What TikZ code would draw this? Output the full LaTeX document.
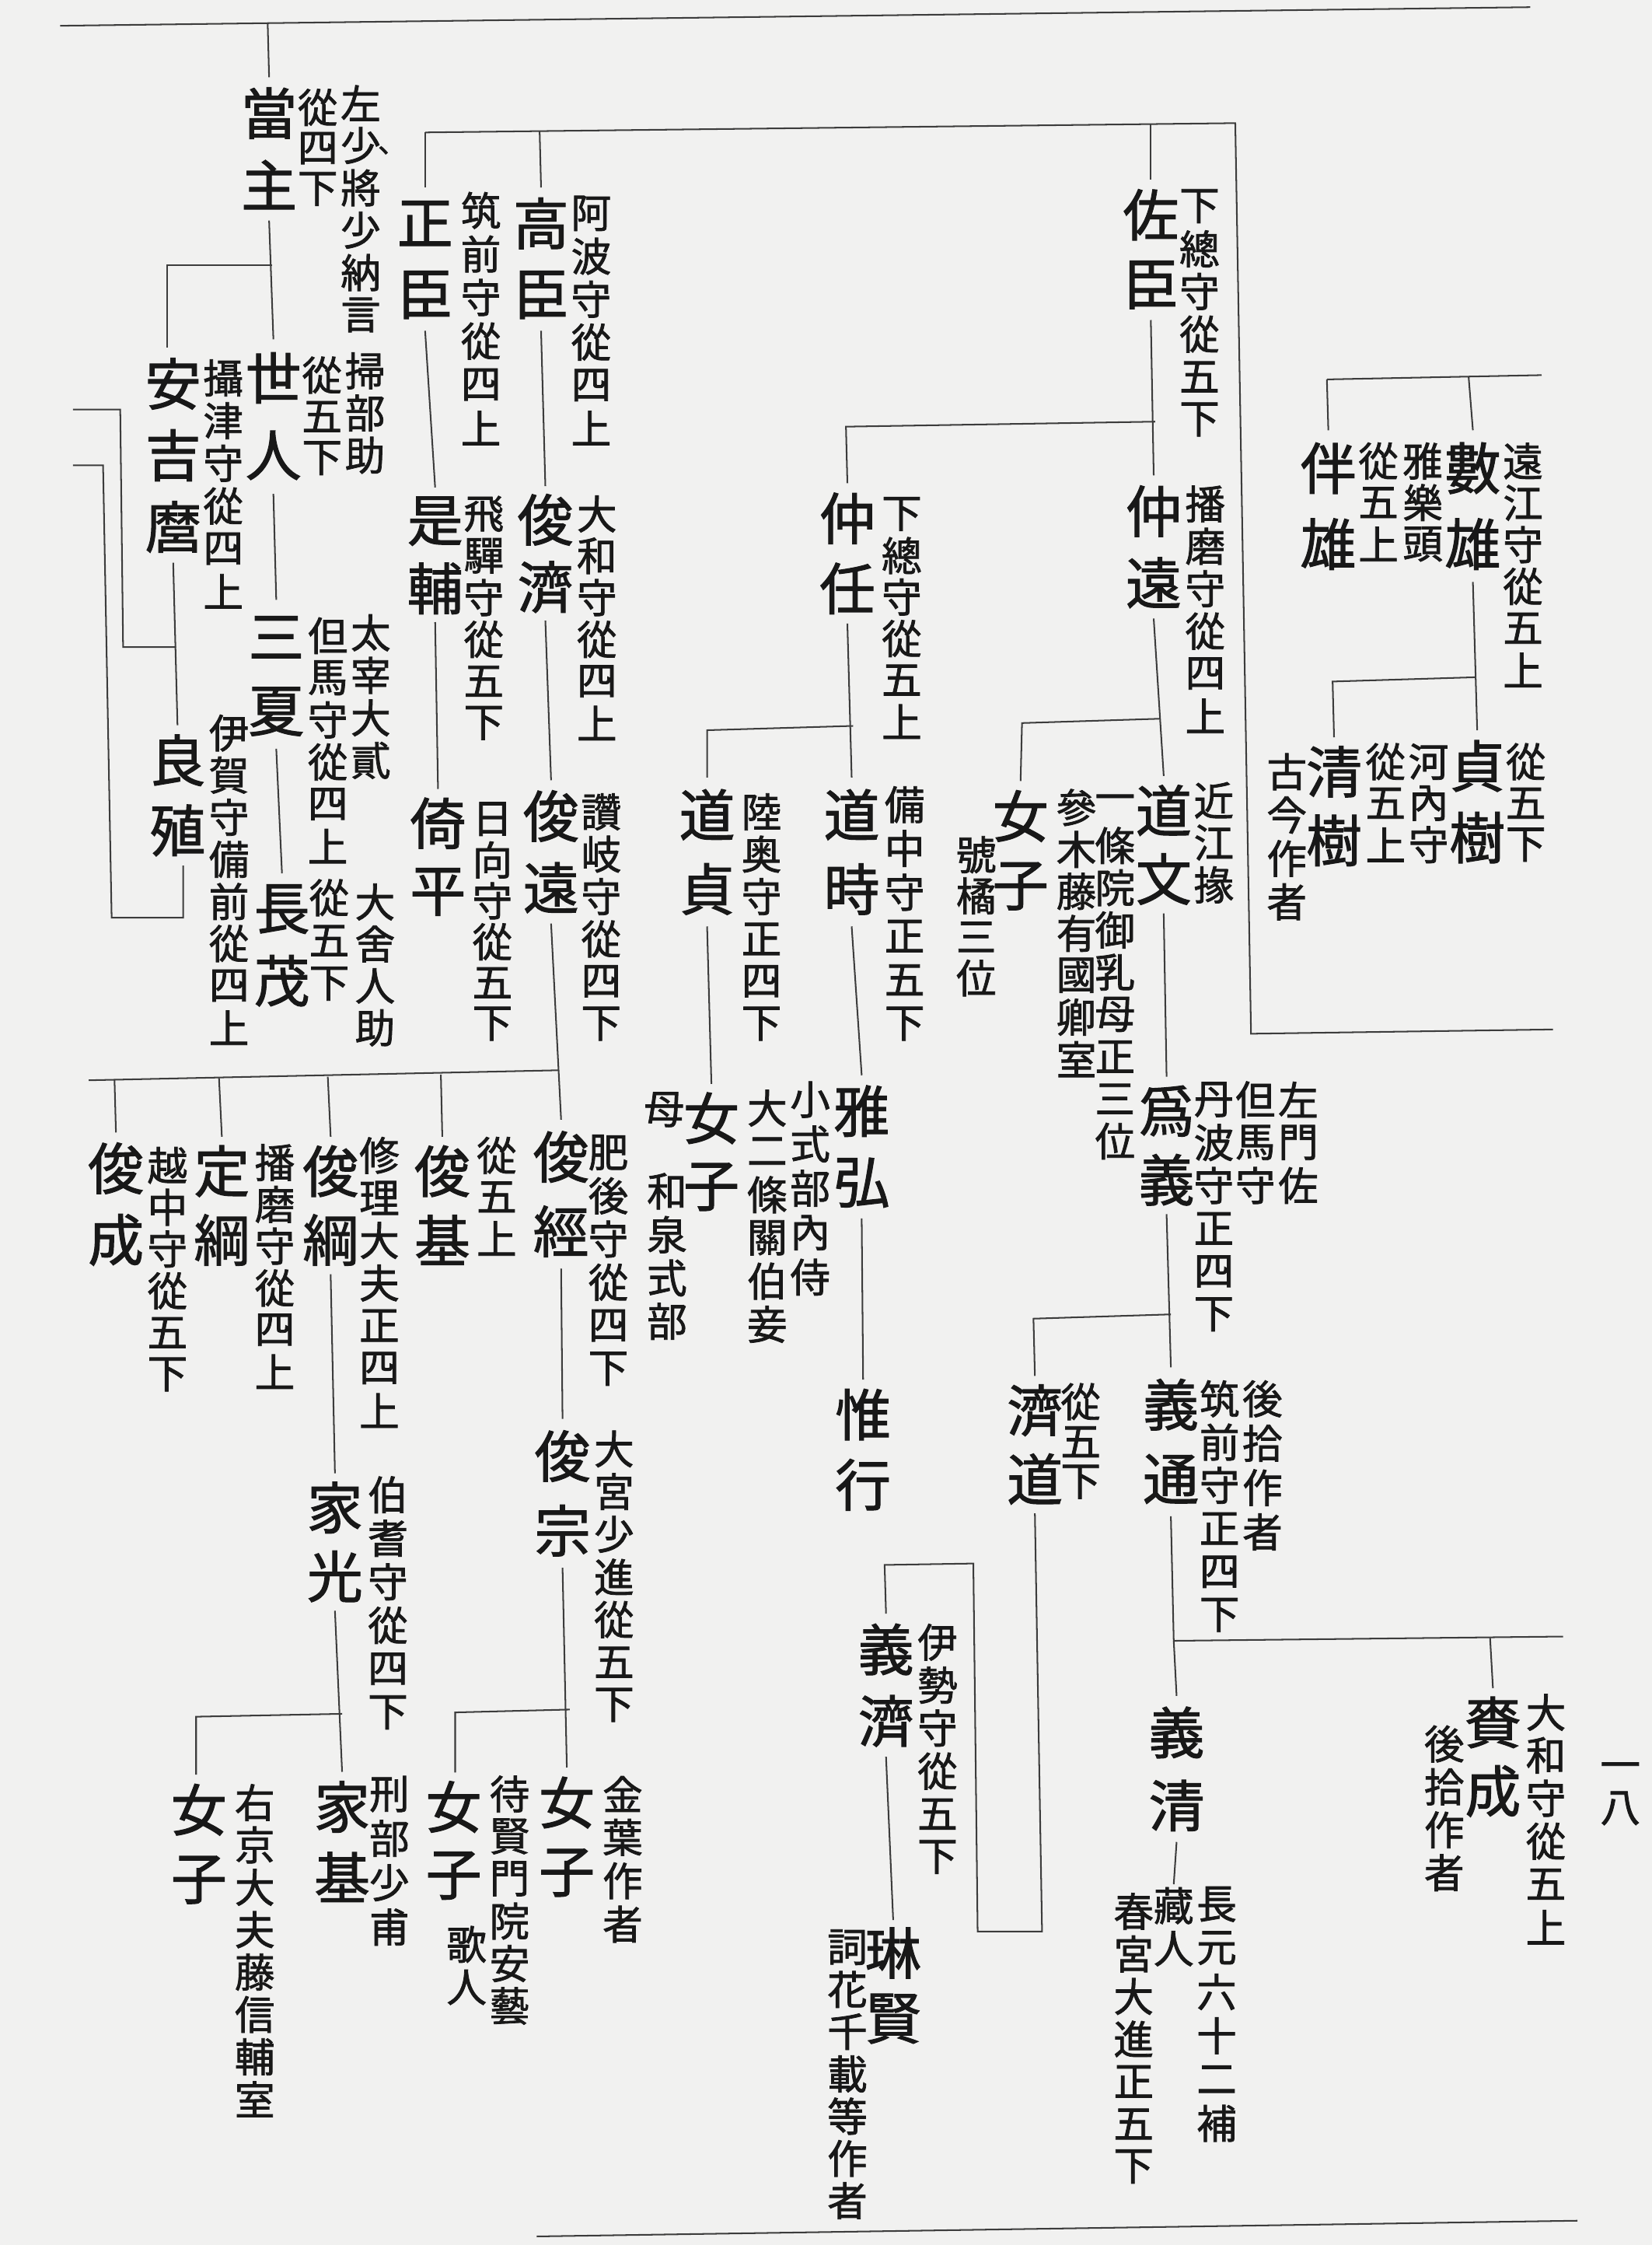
\documentclass[tikz,border=0pt]{standalone}
\usepackage{fontspec}
\newfontfamily\jp{Noto Sans CJK JP}[FakeBold=1.5]
\ExplSyntaxOn
\NewDocumentCommand\vt{mm}{\vbox{\offinterlineskip\tl_map_inline:nn{#2}{\vbox~to~#1pt{\vss\hbox~to~1em{\hss##1\hss}\vss}}}}
\ExplSyntaxOff
\definecolor{bgc}{RGB}{241,241,240}
\definecolor{ink}{RGB}{24,24,24}
\definecolor{lk}{RGB}{60,60,60}
\tikzset{vn/.style={inner sep=0pt,outer sep=0pt,anchor=north,font=\jp,text=ink},
         ln/.style={line width=1.1pt,draw=lk}}
\newcommand\NM[5]{\node[vn] (#1) at ({#2},{#3-#4/2}) {\fontsize{39}{39}\selectfont\vt{#4}{#5}};}
\newcommand\AN[5]{\node[vn] (#1) at ({#2},{#3-#4/2}) {\fontsize{28}{28}\selectfont\vt{#4}{#5}};}
\begin{document}
\begin{tikzpicture}[x=1pt,y=-1pt]
\fill[bgc] (0,0) rectangle (1154,1568);
\useasboundingbox (0,0) rectangle (1154,1568);
% ---------- names ----------
\NM{toshu}{188}{79}{50}{當主}
\NM{yohito}{191}{264}{54}{世人}
\NM{yasuyoshi}{121}{268}{50}{安吉麿}
\NM{minatsu}{193}{445}{52}{三夏}
\NM{nagashige}{197}{635}{50}{長茂}
\NM{yoshishige}{124}{531}{49}{良殖}
\NM{masaomi}{297}{156}{50}{正臣}
\NM{koresuke}{304}{364}{47}{是輔}
\NM{yorihira}{306}{575}{48}{倚平}
\NM{takaomi}{378}{156}{50}{高臣}
\NM{toshinari1}{381}{363}{47}{俊濟}
\NM{toshito}{385}{570}{50}{俊遠}
\NM{sukeomi}{804}{150}{49}{佐臣}
\NM{nakato}{592}{362}{49}{仲任}
\NM{nakatoo}{806}{357}{50}{仲遠}
\NM{tomoo}{928}{327}{53}{伴雄}
\NM{kazuo}{1029}{327}{53}{數雄}
\NM{sadaki}{1032}{535}{50}{貞樹}
\NM{kiyoki}{932}{539}{48}{清樹}
\NM{michisada}{494}{569}{52}{道貞}
\NM{michitoki}{595}{569}{52}{道時}
\NM{nyoshiA}{713}{570}{49}{女子}
\NM{michifumi}{813}{566}{48}{道文}
\NM{tameyoshi}{815}{776}{48}{爲義}
\NM{nyoshiB}{497}{781}{48}{女子}
\NM{masahiro}{602}{776}{50}{雅弘}
\NM{koreyuki}{603}{988}{49}{惟行}
\NM{narimichi}{723}{985}{48}{濟道}
\NM{yoshimichi}{818}{981}{52}{義通}
\NM{toshinari}{81}{816}{50}{俊成}
\NM{sadatsuna}{155}{818}{48}{定綱}
\NM{toshitsuna}{231}{818}{48}{俊綱}
\NM{toshimoto}{309}{818}{48}{俊基}
\NM{toshitsune}{392}{808}{52}{俊經}
\NM{toshimune}{393}{1017}{52}{俊宗}
\NM{iemitsu}{234}{1053}{48}{家光}
\NM{nyoshiC}{139}{1264}{49}{女子}
\NM{iemoto}{239}{1262}{49}{家基}
\NM{nyoshiD}{317}{1262}{48}{女子}
\NM{nyoshiE}{396}{1259}{49}{女子}
\NM{yoshinari}{619}{1152}{50}{義濟}
\NM{rinken}{624}{1364}{46}{琳賢}
\NM{yoshikiyo}{822}{1210}{51}{義清}
\NM{yorinari}{1043}{1203}{48}{賚成}
% ---------- annotations ----------
\AN{a1}{222}{75}{28.5}{從四下}
\AN{a2}{252}{72}{29.6}{左少將少納言}
\node[vn,anchor=center,font=\jp\fontsize{20}{20}\selectfont] (comma) at (274,105) {、};
\AN{a3}{225}{262}{29}{從五下}
\AN{a4}{255}{259}{29.5}{掃部助}
\AN{a5}{156}{264}{29.8}{攝津守從四上}
\AN{a6}{229}{444}{29.4}{但馬守從四上}
\AN{a7}{259}{442}{29.7}{太宰大貳}
\AN{a8}{230}{627}{30}{從五下}
\AN{a9}{262}{630}{29.3}{大舍人助}
\AN{a10}{160}{512}{29.4}{伊賀守備前從四上}
\AN{a11}{336}{147}{30.4}{筑前守從四上}
\AN{a12}{338}{359}{29.2}{飛驒守從五下}
\AN{a13}{344}{572}{28.6}{日向守從五下}
\AN{a14}{413}{149}{30}{阿波守從四上}
\AN{a15}{417}{359}{29.2}{大和守從四上}
\AN{a16}{420}{567}{29.6}{讚岐守從四下}
\AN{a17}{630}{359}{29}{下總守從五上}
\AN{a18}{838}{144}{29.8}{下總守從五下}
\AN{a19}{842}{352}{29.6}{播磨守從四上}
\AN{a20}{963}{322}{29}{從五上}
\AN{a21}{994}{322}{29}{雅樂頭}
\AN{a22}{1064}{322}{29.2}{遠江守從五上}
\AN{a23}{1066}{532}{29}{從五下}
\AN{a24}{998}{532}{29}{河內守}
\AN{a25}{968}{532}{29}{從五上}
\AN{a26}{899}{539}{30.3}{古今作者}
\AN{a27}{848}{559}{29.5}{近江掾}
\AN{a28}{779}{561}{29.5}{一條院御乳母正三位}
\AN{a29}{752}{564}{29.3}{參木藤有國卿室}
\AN{a30}{682}{597}{28.7}{號橘三位}
\AN{a31}{532}{567}{29.6}{陸奥守正四下}
\AN{a32}{632}{562}{30.6}{備中守正五下}
\AN{a33}{848}{768}{30}{丹波守正四下}
\AN{a34}{877}{768}{30}{但馬守}
\AN{a35}{907}{768}{30}{左門佐}
\AN{a36}{464}{775}{30}{母}
\AN{a37}{466}{832}{30.3}{和泉式部}
\AN{a38}{536}{774}{30.2}{大二條關伯妾}
\AN{a39}{566}{768}{31}{小式部內侍}
\AN{a40}{117}{814}{29.2}{越中守從五下}
\AN{a41}{192}{812}{29.2}{播磨守從四上}
\AN{a42}{265}{807}{29.7}{修理大夫正四上}
\AN{a43}{347}{807}{29}{從五上}
\AN{a44}{425}{805}{30.2}{肥後守從四下}
\AN{a45}{429}{1012}{29.8}{大宮少進從五下}
\AN{a46}{271}{1044}{30.4}{伯耆守從四下}
\AN{a47}{755}{979}{28}{從五下}
\AN{a48}{852}{977}{30.2}{筑前守正四下}
\AN{a49}{882}{977}{31}{後拾作者}
\AN{a50}{178}{1259}{29.6}{右京大夫藤信輔室}
\AN{a51}{272}{1253}{31}{刑部少甫}
\AN{a52}{356}{1253}{29.6}{待賢門院安藝}
\AN{a53}{326}{1358}{30}{歌人}
\AN{a54}{435}{1253}{30.3}{金葉作者}
\AN{a55}{655}{1147}{30}{伊勢守從五下}
\AN{a56}{592}{1360}{29.5}{詞花千載等作者}
\AN{a57}{850}{1330}{30.6}{長元六十二補}
\AN{a58}{820}{1331}{30}{藏人}
\AN{a59}{792}{1335}{29.7}{春宮大進正五下}
\AN{a60}{1080}{1196}{30}{大和守從五上}
\AN{a61}{1009}{1218}{30}{後拾作者}
\AN{pg}{1132}{1237}{26}{一八}
% ---------- rules ----------
\coordinate (topL) at (42,18); \coordinate (topR) at (1069,5);
\draw[ln] (topL) -- (topR);
\coordinate (botL) at (375,1562); \coordinate (botR) at (1102,1551);
\draw[ln] (botL) -- (botR);
% ---------- connectors ----------
\coordinate (t0) at (187,16);
\draw[ln] (t0) -- (toshu.north);
\draw[ln] (toshu.south) -- (yohito.north);
\coordinate (b1) at (190,185); \coordinate (b1L) at (117,185);
\draw[ln] (b1) -- (b1L) -- (b1L |- yasuyoshi.north);
\draw[ln] (yohito.south) -- (minatsu.north);
\draw[ln] (minatsu.south) -- (nagashige.north);
\draw[ln] (yasuyoshi.south) -- (yoshishige.north);
\coordinate (k1a) at (51,286); \coordinate (k1b) at (84,286);
\coordinate (k1c) at (86,452); \coordinate (k1d) at (123,452);
\draw[ln] (k1a) -- (k1b) -- (k1c) -- (k1d);
\coordinate (k2a) at (51,325); \coordinate (k2b) at (72,325);
\coordinate (k2c) at (78,641); \coordinate (k2d) at (128,641);
\draw[ln] (k2a) -- (k2b) -- (k2c) -- (k2d) -- (k2d |- yoshishige.south);
% group of masaomi / takaomi / sukeomi
\coordinate (g1L) at (297,92.5); \coordinate (g1R) at (863,86);
\coordinate (g1B) at (874,722); \coordinate (g1E) at (1085,719);
\draw[ln] (g1L) -- (g1R) -- (g1B) -- (g1E);
\draw[ln] (g1L) -- (masaomi.north);
\coordinate (g1b) at (377,91.6); \draw[ln] (g1b) -- (takaomi.north);
\coordinate (g1c) at (804,86.7); \draw[ln] (g1c) -- (sukeomi.north);
\draw[ln] (masaomi.south) -- (koresuke.north);
\draw[ln] (koresuke.south) -- (yorihira.north);
\draw[ln] (takaomi.south) -- (toshinari1.north);
\draw[ln] (toshinari1.south) -- (toshito.north);
\draw[ln] (toshito.south) -- (toshitsune.north);
\coordinate (g2L) at (62,754.5); \coordinate (g2R) at (390,747.5);
\draw[ln] (g2L) -- (g2R);
\coordinate (g2a) at (80,754); \draw[ln] (g2a) -- (toshinari.north);
\coordinate (g2b) at (153,753); \draw[ln] (g2b) -- (sadatsuna.north);
\coordinate (g2c) at (229,752); \draw[ln] (g2c) -- (toshitsuna.north);
\coordinate (g2d) at (308,750.5); \draw[ln] (g2d) -- (toshimoto.north);
\draw[ln] (toshitsuna.south) -- (iemitsu.north);
\draw[ln] (iemitsu.south) -- (iemoto.north);
\coordinate (g3R) at (239,1197); \coordinate (g3L) at (137,1199);
\draw[ln] (g3R) -- (g3L) -- (g3L |- nyoshiC.north);
\draw[ln] (toshitsune.south) -- (toshimune.north);
\draw[ln] (toshimune.south) -- (nyoshiE.north);
\coordinate (g4R) at (398,1194); \coordinate (g4L) at (318,1196);
\draw[ln] (g4R) -- (g4L) -- (g4L |- nyoshiD.north);
% sukeomi line
\draw[ln] (sukeomi.south) -- (nakatoo.north);
\coordinate (g5R) at (807,294.5); \coordinate (g5L) at (591,298);
\draw[ln] (g5R) -- (g5L) -- (nakato.north);
\draw[ln] (nakato.south) -- (michitoki.north);
\coordinate (g6R) at (596,507); \coordinate (g6L) at (494,510);
\draw[ln] (g6R) -- (g6L) -- (michisada.north);
\draw[ln] (michisada.south) -- (nyoshiB.north);
\draw[ln] (michitoki.south) -- (masahiro.north);
\draw[ln] (masahiro.south) -- (koreyuki.north);
\draw[ln] (nakatoo.south) -- (michifumi.north);
\coordinate (g7R) at (810,502); \coordinate (g7L) at (714,505);
\draw[ln] (g7R) -- (g7L) -- (nyoshiA.north);
\draw[ln] (michifumi.south) -- (tameyoshi.north);
\draw[ln] (tameyoshi.south) -- (yoshimichi.north);
\coordinate (g8R) at (818,918); \coordinate (g8L) at (722,921);
\draw[ln] (g8R) -- (g8L) -- (narimichi.north);
\coordinate (u1) at (728,1349); \coordinate (u2) at (683,1349);
\coordinate (u3) at (680,1092); \coordinate (u4) at (618,1093);
\draw[ln] (narimichi.south) -- (u1) -- (u2) -- (u3) -- (u4) -- (yoshinari.north);
\draw[ln] (yoshinari.south) -- (rinken.north);
\coordinate (g9L) at (820,1146); \coordinate (g9R) at (1092,1143);
\draw[ln] (yoshimichi.south) -- (g9L) -- (g9R);
\draw[ln] (g9L) -- (yoshikiyo.north);
\coordinate (g9b) at (1041,1144); \draw[ln] (g9b) -- (yorinari.north);
\draw[ln] (yoshikiyo.south) -- (a58.north);
% top right group
\coordinate (g10L) at (927,265); \coordinate (g10R) at (1077,262);
\draw[ln] (g10L) -- (g10R);
\draw[ln] (g10L) -- (tomoo.north);
\coordinate (g10b) at (1026,263); \draw[ln] (g10b) -- (kazuo.north);
\draw[ln] (kazuo.south) -- (sadaki.north);
\coordinate (g11R) at (1031,473); \coordinate (g11L) at (931,476);
\draw[ln] (g11R) -- (g11L) -- (kiyoki.north);
\end{tikzpicture}
\end{document}
